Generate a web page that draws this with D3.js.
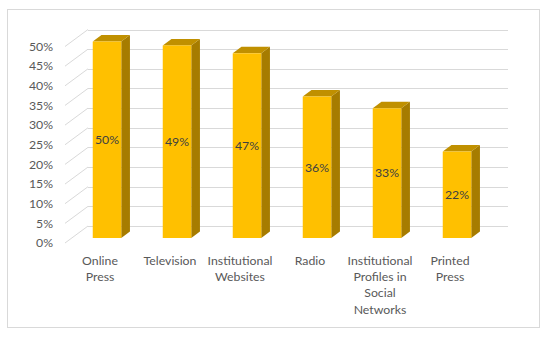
<!DOCTYPE html>
<html>
<head>
<meta charset="utf-8">
<script src="https://cdn.jsdelivr.net/npm/d3@7"></script>
<style>
  body { margin: 0; background: #fff; }
  text { font-family: Lato, "Liberation Sans", sans-serif; }
</style>
</head>
<body>
<script>
// chart data
var categories = ["Online\nPress", "Television", "Institutional\nWebsites", "Radio",
                  "Institutional\nProfiles in\nSocial\nNetworks", "Printed\nPress"];
var values = [0.50, 0.49, 0.47, 0.36, 0.33, 0.22];
var yTicks = [0, 0.05, 0.10, 0.15, 0.20, 0.25, 0.30, 0.35, 0.40, 0.45, 0.50];

var width = 550, height = 337;

var svg = d3.select("body").append("svg")
  .attr("width", width)
  .attr("height", height);

// outer frame
svg.append("rect")
  .attr("x", 7.5).attr("y", 9.5)
  .attr("width", 532).attr("height", 318)
  .attr("fill", "none")
  .attr("stroke", "#d9d9d9");

// back wall scales
var x = d3.scaleBand().domain(d3.range(categories.length)).range([88, 508]);
var y = d3.scaleLinear().domain([0, 0.5]).range([226, 29.5]);

// depth offsets (screen shift from back wall)
var front = {dx: -23, dy: 17};      // front plane (axis labels)
var barFront = {dx: -16, dy: 12};   // bar front face
var barBack = {dx: -7.3, dy: 5.5};  // bar back face
var barW = 28.5;

// gridlines on the back wall + diagonal on side wall
var grid = svg.append("g").attr("stroke", "#d9d9d9").attr("stroke-width", 1);
yTicks.forEach(function(t) {
  var yy = Math.round(y(t)) + 0.5;
  grid.append("line")
    .attr("x1", 88).attr("x2", 508)
    .attr("y1", yy).attr("y2", yy);
  grid.append("line")
    .attr("x1", 88 + front.dx).attr("y1", y(t) + front.dy)
    .attr("x2", 88).attr("y2", y(t));
});

// y axis labels
svg.append("g").selectAll("text").data(yTicks).enter().append("text")
  .attr("x", 53)
  .attr("y", function(d) { return y(d) + front.dy; })
  .attr("dy", "0.35em")
  .attr("text-anchor", "end")
  .attr("font-size", 12.3)
  .attr("fill", "#595959")
  .text(function(d) { return d3.format(".0%")(d); });

// bars
var bars = svg.append("g").selectAll("g").data(values).enter().append("g");

function fx(i) { return x(i) + x.bandwidth() / 2 - barW / 2 + barFront.dx; }
var sdx = barBack.dx - barFront.dx, sdy = barBack.dy - barFront.dy;

// side face
bars.append("path")
  .attr("fill", "#a67c00")
  .attr("d", function(d, i) {
    var x0 = fx(i) + barW, yt = y(d) + barFront.dy, yb = y(0) + barFront.dy;
    return "M" + x0 + "," + yt + "L" + (x0 + sdx) + "," + (yt + sdy) +
      "L" + (x0 + sdx) + "," + (yb + sdy) + "L" + x0 + "," + yb + "Z";
  });

// top face
bars.append("path")
  .attr("fill", "#c09000")
  .attr("d", function(d, i) {
    var x0 = fx(i), yt = y(d) + barFront.dy;
    return "M" + x0 + "," + yt + "L" + (x0 + sdx) + "," + (yt + sdy) +
      "L" + (x0 + barW + sdx) + "," + (yt + sdy) + "L" + (x0 + barW) + "," + yt + "Z";
  });

// front face
bars.append("rect")
  .attr("fill", "#ffc000")
  .attr("x", function(d, i) { return fx(i); })
  .attr("y", function(d) { return y(d) + barFront.dy; })
  .attr("width", barW)
  .attr("height", function(d) { return y(0) - y(d); });

// value labels
bars.append("text")
  .attr("x", function(d, i) { return fx(i) + barW / 2; })
  .attr("y", function(d) { return (y(d) + y(0)) / 2 + barFront.dy; })
  .attr("dy", "0.35em")
  .attr("text-anchor", "middle")
  .attr("font-size", 12.3)
  .attr("fill", "#404040")
  .text(function(d) { return d3.format(".0%")(d); });

// category labels
var cat = svg.append("g").selectAll("text").data(categories).enter().append("text")
  .attr("x", function(d, i) { return x(i) + x.bandwidth() / 2 + front.dx; })
  .attr("y", 264.5)
  .attr("text-anchor", "middle")
  .attr("font-size", 12.3)
  .attr("fill", "#595959");

cat.each(function(d) {
  var t = d3.select(this);
  var xx = t.attr("x");
  d.split("\n").forEach(function(line, k) {
    t.append("tspan").attr("x", xx).attr("dy", k === 0 ? 0 : 16.4).text(line);
  });
});
</script>
</body>
</html>
